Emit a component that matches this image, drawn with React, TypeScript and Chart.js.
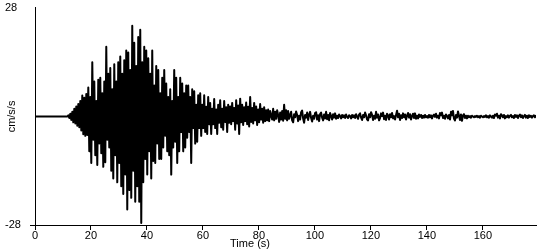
import React, { useEffect, useRef } from 'react';
import { Chart, registerables } from 'chart.js';

Chart.register(...registerables);

// Axis ranges and tick labels
const X_MIN = 0;
const X_MAX = 179;
const Y_MIN = -28;
const Y_MAX = 28;
const xTickValues = [0, 20, 40, 60, 80, 100, 120, 140, 160];
const yTickValues = [-28, 28];
const xTitle = 'Time (s)';
const yTitle = 'cm/s/s';

// Sampling of the trace (seconds)
const preEventTimes = [0, 11.6];
const preEventValues = [0, 0];
const signalStart = 11.9;
const sampleInterval = 0.357;

// Acceleration values (cm/s/s)
const pWaveOnset = [0.3, -0.4, 0.7, -0.9, 1.2, -1.5, 2, -1.8, 2.6, -2.4, 3.2, -2.8, 4, -3.6, 5.4, -4.6, 4.8, -5, 5.8, -4.8];
const strongMotionEarly = [7.5, -9, 5, -12, 14, -6, 9, -10, 4, -12.5, 9.5, -7, 10, -9.5, 6, -13, 9, -11.8, 18, -6];
const strongMotionRise = [11, -8, 12.5, -14, 7, -16, 13.5, -10, 9, -17, 14, -12, 15.5, -18, 11, -20, 14.5, -15, 17, -24];
const strongMotionPeak = [16.5, -19, 12, -21, 23.4, -14, 19, -22, 13, -18, 20.5, -22, 22.4, -27.5, 14, -17, 18, -11, 17, -15];
const strongMotionDecay = [15, -9, 11, -16, 17, -11.5, 8, -12, 13, -7, 12, -11, 6, -11, 10, -8, 12, -5, 8.5, -9];
const strongMotionTail = [5, -10, 7, -15, 4, -8, 12, -6.5, 10, -12, 5, -9, 10, -4, 8.5, -9, 6, -8, 8, -5.5];
const codaEarly1 = [8, -4, 5, -12, 7, -3, 6.5, -7, 3, -6.5, 5.5, -3, 6, -5, 3, -3, 5.5, -4, 2.5, -4.5];
const codaEarly2 = [5, -2, 3.5, -4.5, 2, -2, 4.5, -3, 1.8, -4.5, 3, -1.6, 4.2, -2.8, 2, -3.4, 4, -1.4, 2.4, -4];
const codaEarly3 = [3, -1.6, 2.6, -2, 3.5, -1.2, 2.2, -3.4, 4.2, -1.8, 2.8, -4.5, 4.6, -1.5, 3, -2.2, 2.4, -1.2, 3.6, -2];
const codaMid1 = [2.5, -2.6, 5, -1.4, 2.2, -1.8, 3.5, -1, 2.6, -2.2, 1.8, -1.5, 3.2, -0.8, 2, -1.6, 2.4, -1.2, 1.6, -1];
const codaMid2 = [1.8, -1.2, 1.4, 0.2, -0.8, 2, -1, 1.2, -0.6, 1.6, 0.4, -1.4, 1, -0.8, 1.4, -1.1, 3, -0.6, 1.6, -1];
const codaMid3 = [1.4, -0.6, 0.3, 1.2, -1, -1.5, 0.6, -0.2, 1.3, 0.4, -1.2, 0.2, -0.8, 1.1, 1.5, -0.5, -1.6, 0.4, -0.3, 1];
const codaMid4 = [-0.9, 0.5, 1.2, -0.4, -1.3, 0.2, -0.6, 0.9, 1.1, -0.8, 0.3, -1.2, 0.6, 1, -0.3, -1, 0.5, -0.5, 1.2, -0.7];
const codaLate1 = [0.4, -1, 0.9, 0.1, -0.8, 0.6, -0.3, 0.8, -0.6, 0.2, -0.4, 0.5, 0.1, -0.5, 0.4, -0.2, 0.3, -0.4, 0.5, -0.1];
const codaLate2 = [-0.4, 0.3, 0.1, -0.5, 0.4, -0.2, 0.3, -0.4, 0.6, -0.1, -0.6, 0.5, 0.8, -0.3, -0.9, 0.4, -0.2, 1, 0.3, -0.8];
const codaLate3 = [-1, 0.6, -0.2, 1.1, 0.4, -0.9, 0.2, -0.6, 1.2, -0.3, 0.5, -1, -0.4, 0.8, 0.1, 1, -0.7, 0.2, -0.9, 0.7];
const codaLate4 = [0.3, -0.8, 0.6, -0.2, 0.9, -0.5, 0.1, -0.8, 0.4, 1.5, -0.2, 0.7, -0.9, 0.3, -0.4, 0.8, -0.2, 0.5, -0.8, 0.2];
const codaLate5 = [0.9, -0.3, 0.6, -0.8, 0.1, 0.7, -0.4, 0.8, -0.6, 0.2, -0.5, 0.5, -0.1, 0.4, -0.4, 0.2, -0.3, 0.4, -0.2, 0.1];
const tail1 = [-0.3, 0.4, -0.2, 0.3, -0.5, 0.2, 0.5, -0.1, 0.7, -0.3, 0.2, -0.5, 0.9, 0.3, 1, -0.4, 0.2, -0.6, 0.5, 0.1];
const tail2 = [-0.5, 0.4, -0.8, 1.2, 0.3, 1.4, -0.6, -1, 0.4, -0.3, 1.3, 0.2, -0.9, 0.5, -1.1, 0.3, 0.6, -0.4, 0.2, -0.5];
const tail3 = [0.2, -0.2, 0.1, -0.3, 0.2, 0, -0.2, 0.1, -0.1, 0.2, -0.2, 0.1, -0.3, 0.2, 0, -0.2, 0.1, -0.1, 0.3, -0.2];
const tail4 = [0.1, -0.3, 0.3, 0, -0.3, 0.2, -0.4, 0.5, 0.2, 0.7, -0.3, 0.2, -0.5, 0.6, 0.3, -0.2, 0.4, -0.5, 0.1, -0.2];
const tail5 = [0.3, -0.3, 0.2, 0.4, -0.2, 0.1, -0.4, 0.4, -0.1, 0.3, -0.4, 0.2, 0.5, -0.2, 0.3, -0.4, 0.1, 0.4, -0.3, 0.2];
const tail6 = [-0.4, 0.3, -0.1, 0.2, -0.3, 0.1, 0.3, -0.2, 0.2, -0.2];

const signalValues = [
  ...pWaveOnset, ...strongMotionEarly, ...strongMotionRise, ...strongMotionPeak,
  ...strongMotionDecay, ...strongMotionTail, ...codaEarly1, ...codaEarly2, ...codaEarly3,
  ...codaMid1, ...codaMid2, ...codaMid3, ...codaMid4,
  ...codaLate1, ...codaLate2, ...codaLate3, ...codaLate4, ...codaLate5,
  ...tail1, ...tail2, ...tail3, ...tail4, ...tail5, ...tail6,
];

const FONT = '"Liberation Sans", Arial, sans-serif';

const axisTitlesPlugin = {
  id: 'axisTitles',
  afterDraw(chart: any) {
    const { ctx, chartArea } = chart;
    ctx.save();
    ctx.fillStyle = '#000';
    ctx.font = `11px ${FONT}`;
    ctx.textAlign = 'center';
    ctx.textBaseline = 'middle';
    ctx.fillText(xTitle, chartArea.left + 215, chartArea.bottom + 19);
    ctx.translate(12, (chartArea.top + chartArea.bottom) / 2);
    ctx.rotate(-Math.PI / 2);
    ctx.fillText(yTitle, 0, 0);
    ctx.restore();
  },
};

export default function App() {
  const canvasRef = useRef<HTMLCanvasElement | null>(null);

  useEffect(() => {
    document.body.style.margin = '0';
    const canvas = canvasRef.current;
    if (!canvas) return;

    const points = [
      ...preEventTimes.map((t, i) => ({ x: t, y: preEventValues[i] })),
      ...signalValues.map((v, i) => ({ x: signalStart + i * sampleInterval, y: v })),
    ];

    const chart = new Chart(canvas, {
      type: 'line',
      data: {
        datasets: [
          {
            data: points,
            borderColor: '#000',
            borderWidth: 2,
            borderJoinStyle: 'round',
            pointRadius: 0,
            tension: 0,
            fill: false,
          },
        ],
      },
      options: {
        animation: false,
        responsive: false,
        parsing: false,
        normalized: true,
        events: [],
        layout: { padding: { left: 5, top: 5, right: 14, bottom: 0 } },
        plugins: { legend: { display: false }, tooltip: { enabled: false } },
        scales: {
          x: {
            type: 'linear',
            min: X_MIN,
            max: X_MAX,
            afterBuildTicks: (s: any) => {
              s.ticks = xTickValues.map((v) => ({ value: v }));
            },
            afterFit: (s: any) => {
              s.height = 25;
            },
            border: { display: true, color: '#000', width: 1 },
            grid: { drawOnChartArea: false, drawTicks: true, tickLength: 5, color: '#000' },
            ticks: {
              color: '#000',
              padding: 0,
              maxRotation: 0,
              autoSkip: false,
              font: { family: FONT, size: 11, lineHeight: 1 },
            },
          },
          y: {
            type: 'linear',
            min: Y_MIN,
            max: Y_MAX,
            afterBuildTicks: (s: any) => {
              s.ticks = yTickValues.map((v) => ({ value: v }));
            },
            afterFit: (s: any) => {
              s.width = 30;
            },
            border: { display: true, color: '#000', width: 1 },
            grid: {
              drawOnChartArea: false,
              drawTicks: true,
              tickLength: 5,
              color: (c: any) => (c.tick && c.tick.value === Y_MIN ? '#000' : 'rgba(0,0,0,0)'),
            },
            ticks: {
              color: '#000',
              crossAlign: 'far',
              font: { family: FONT, size: 11, lineHeight: 0.9 },
            },
          },
        },
      },
      plugins: [axisTitlesPlugin],
    } as any);

    return () => chart.destroy();
  }, []);

  return (
    <div style={{ width: 550, height: 250 }}>
      <canvas ref={canvasRef} width={550} height={250} />
    </div>
  );
}
